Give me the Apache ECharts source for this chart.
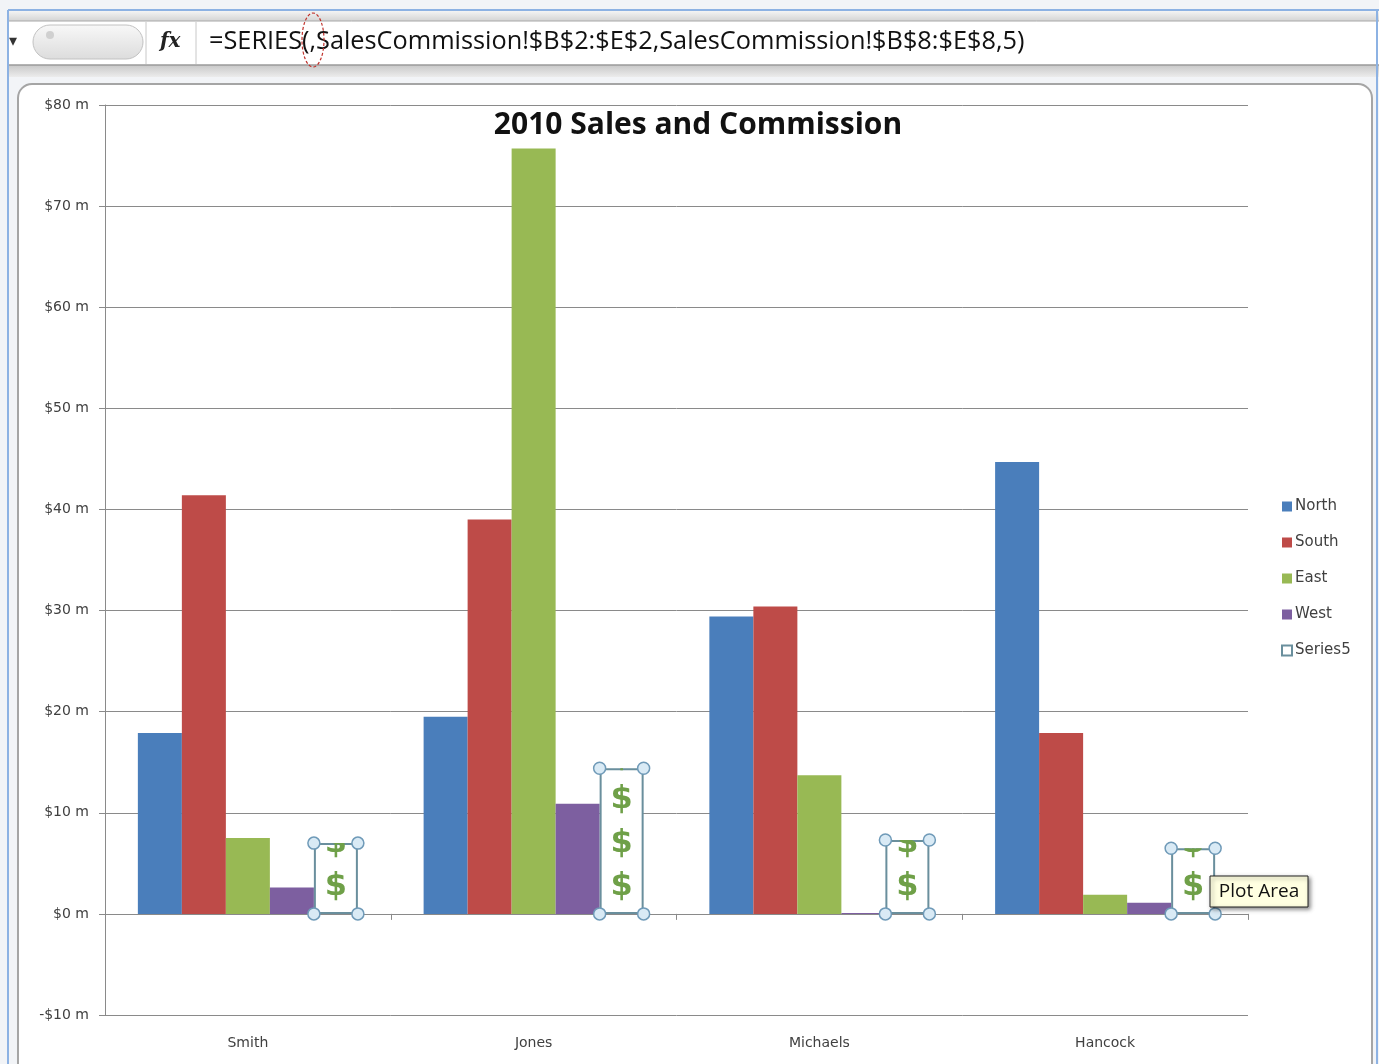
<!DOCTYPE html>
<html>
<head>
<meta charset="utf-8">
<script src="https://cdn.jsdelivr.net/npm/echarts@6/dist/echarts.min.js"></script>
<style>
	html, body { margin:0; padding:0; background:#fff; }
	#main { width:1379px; height:1064px; }
</style>
</head>
<body>
<div id="main"></div>
<script>
	// data ($ millions)
	var categories = ['Smith', 'Jones', 'Michaels', 'Hancock'];
	var north = [17.9, 19.5, 29.4, 44.7];
	var south = [41.4, 39.0, 30.4, 17.9];
	var east = [7.5, 75.7, 13.7, 1.9];
	var west = [2.6, 10.9, 0.1, 1.1];
	var series5 = [7.0, 14.4, 7.3, 6.5];
	var yTicks = { min: -10, max: 80, interval: 10 };
	var formulaText = '=SERIES(,SalesCommission!$B$2:$E$2,SalesCommission!$B$8:$E$8,5)';

	var chart = echarts.init(document.getElementById('main'));
	var gridColor = '#8a8a8a';
	var catGap = 0.23;
	var labelFont = 'DejaVu Sans';

	// $ pictograph for Series5, stacked from the axis up and clipped at the value
	function renderDollars(params, api){
		var i = api.value(0);
		var base = api.coord([i, 0]);
		var top = api.coord([i, api.value(1)]);
		var catW = api.size([1, 0])[0];
		var groupW = catW * (1 - catGap);
		var slot = groupW / 5;
		var x0 = base[0] + groupW / 2 - slot;
		var cx = x0 + slot / 2;
		var glyphs = [];
		for (var k = 0; k < 6; k++) {
			var cy = base[1] - 27 - k * 43.5;
			glyphs.push({
				type: 'text',
				style: { text: '$', x: cx, y: cy, align: 'center', verticalAlign: 'middle',
					fill: '#6fa048', font: 'bold 32px "DejaVu Sans"' }
			});
		}
		var handles = [[x0, top[1]], [x0 + slot, top[1]], [x0, base[1]], [x0 + slot, base[1]]].map(function(p){
			return { type: 'circle', shape: { cx: p[0], cy: p[1], r: 6 },
				style: { fill: '#d9eaf5', stroke: '#6f9ab8', lineWidth: 1.5 } };
		});
		return {
			type: 'group',
			children: [
				{ type: 'group', children: glyphs,
					clipPath: { type: 'rect', shape: { x: x0, y: top[1], width: slot, height: base[1] - top[1] } } }
			].concat(handles)
		};
	}

	var barBase = { type: 'bar', barGap: '0%', barCategoryGap: (catGap * 100) + '%' };

	var option = {
		animation: false,
		backgroundColor: '#ffffff',
		title: {
			text: '2010 Sales and Commission',
			left: 693, top: 105, textAlign: 'center',
			textStyle: { fontFamily: 'Open Sans', fontWeight: 'bold', fontSize: 30, color: '#111' }
		},
		legend: {
			orient: 'vertical', left: 1276, top: 494, itemGap: 21,
			itemWidth: 10, itemHeight: 10, icon: 'rect',
			data: ['North', 'South', 'East', 'West', 'Series5'],
			textStyle: { fontFamily: labelFont, fontSize: 15, color: '#404040', padding: [0, 0, 0, -2] }
		},
		grid: { left: 105, right: 131, top: 105, bottom: 49 },
		xAxis: [
			{
				type: 'category', data: categories,
				axisLine: { onZero: true, lineStyle: { color: gridColor } },
				axisTick: { show: true, length: 6, lineStyle: { color: gridColor } },
				axisLabel: { show: false }
			},
			{
				type: 'category', data: categories, position: 'bottom',
				axisLine: { show: false, onZero: false }, axisTick: { show: false },
				axisLabel: { margin: 21, fontFamily: labelFont, fontSize: 14, color: '#404040' }
			}
		],
		yAxis: {
			type: 'value', min: yTicks.min, max: yTicks.max, interval: yTicks.interval,
			axisLine: { show: true, lineStyle: { color: gridColor } },
			axisTick: { show: true, length: 6, lineStyle: { color: gridColor } },
			splitLine: { lineStyle: { color: gridColor, width: 1 } },
			axisLabel: {
				margin: 16, fontFamily: labelFont, fontSize: 14, color: '#404040',
				formatter: function(v){ return (v < 0 ? '-$' + (-v) : '$' + v) + ' m'; }
			}
		},
		series: [
			Object.assign({ name: 'North', data: north, itemStyle: { color: '#4a7ebb' } }, barBase),
			Object.assign({ name: 'South', data: south, itemStyle: { color: '#be4b48' } }, barBase),
			Object.assign({ name: 'East', data: east, itemStyle: { color: '#98b954' } }, barBase),
			Object.assign({ name: 'West', data: west, itemStyle: { color: '#7d5fa0' } }, barBase),
			Object.assign({ name: 'Series5', data: series5,
				itemStyle: { color: '#ffffff', borderColor: '#6a8f9d', borderWidth: 2 } }, barBase),
			{
				type: 'custom', name: 'dollars', renderItem: renderDollars, z: 5,
				data: series5.map(function(v, i){ return [i, v]; })
			}
		],
		graphic: [
			// spreadsheet window behind the chart
			{ type: 'rect', z: -20, shape: { x: 0, y: 0, width: 1379, height: 1064 }, style: { fill: '#f2f4f7' } },
			{ type: 'rect', z: -19, shape: { x: 9, y: 11, width: 1370, height: 10 },
				style: { fill: new echarts.graphic.LinearGradient(0, 0, 0, 1, [{ offset: 0, color: '#f4f4f4' }, { offset: 1, color: '#d4d4d4' }]) } },
			{ type: 'rect', z: -19, shape: { x: 9, y: 21, width: 1370, height: 44 }, style: { fill: '#ffffff' } },
			{ type: 'rect', z: -19, shape: { x: 9, y: 65, width: 1370, height: 12 },
				style: { fill: new echarts.graphic.LinearGradient(0, 0, 0, 1, [{ offset: 0, color: '#c8c8c8' }, { offset: 1, color: '#ececec' }]) } },
			{ type: 'line', z: -18, shape: { x1: 9, y1: 21, x2: 1379, y2: 21 }, style: { stroke: '#a8a8a8', lineWidth: 1 } },
			{ type: 'line', z: -18, shape: { x1: 9, y1: 65, x2: 1379, y2: 65 }, style: { stroke: '#9a9a9a', lineWidth: 1.5 } },
			{ type: 'line', z: -18, shape: { x1: 8, y1: 10, x2: 1379, y2: 10 }, style: { stroke: '#8db2e3', lineWidth: 2 } },
			{ type: 'line', z: -18, shape: { x1: 8, y1: 10, x2: 8, y2: 1064 }, style: { stroke: '#8db2e3', lineWidth: 2 } },
			{ type: 'line', z: -18, shape: { x1: 1377, y1: 10, x2: 1377, y2: 1064 }, style: { stroke: '#8db2e3', lineWidth: 2 } },
			{ type: 'text', z: -17, style: { text: '▾', x: 9, y: 42, verticalAlign: 'middle', fill: '#333', font: '16px "DejaVu Sans"' } },
			{ type: 'rect', z: -17, shape: { x: 33, y: 25, width: 110, height: 34, r: 17 },
				style: { fill: new echarts.graphic.LinearGradient(0, 0, 0, 1, [{ offset: 0, color: '#f8f8f8' }, { offset: 1, color: '#dcdcdc' }]),
					stroke: '#c2c2c2', lineWidth: 1 } },
			{ type: 'circle', z: -16, shape: { cx: 50, cy: 35, r: 4 }, style: { fill: '#d0d0d0' } },
			{ type: 'line', z: -17, shape: { x1: 146, y1: 22, x2: 146, y2: 64 }, style: { stroke: '#c8c8c8', lineWidth: 1 } },
			{ type: 'line', z: -17, shape: { x1: 196, y1: 22, x2: 196, y2: 64 }, style: { stroke: '#c8c8c8', lineWidth: 1 } },
			{ type: 'text', z: -17, style: { text: 'fx', x: 160, y: 42, verticalAlign: 'middle', fill: '#222',
				font: 'italic bold 20px "DejaVu Serif"' } },
			{ type: 'text', z: -17, style: { text: formulaText, x: 209, y: 42, verticalAlign: 'middle', fill: '#111',
				font: '25.3px "Open Sans"' } },
			{ type: 'ellipse', z: -16, shape: { cx: 313, cy: 40, rx: 11, ry: 27 },
				style: { fill: 'none', stroke: '#c0302a', lineWidth: 1.2, lineDash: [3, 2] } },
			// chart area frame
			{ type: 'rect', z: -15, shape: { x: 18, y: 84, width: 1354, height: 1000, r: 14 },
				style: { fill: '#ffffff', stroke: '#a5a5a5', lineWidth: 2 } },
			// tooltip-like label
			{ type: 'rect', z: 100, shape: { x: 1210, y: 876, width: 98, height: 31 },
				style: { fill: '#ffffe1', stroke: '#222', lineWidth: 1, shadowBlur: 4, shadowOffsetX: 2, shadowOffsetY: 2, shadowColor: 'rgba(0,0,0,0.45)' } },
			{ type: 'text', z: 101, style: { text: 'Plot Area', x: 1259, y: 892, align: 'center', verticalAlign: 'middle',
				fill: '#111', font: '19px "Open Sans"' } }
		]
	};
	chart.setOption(option);
</script>
</body>
</html>
